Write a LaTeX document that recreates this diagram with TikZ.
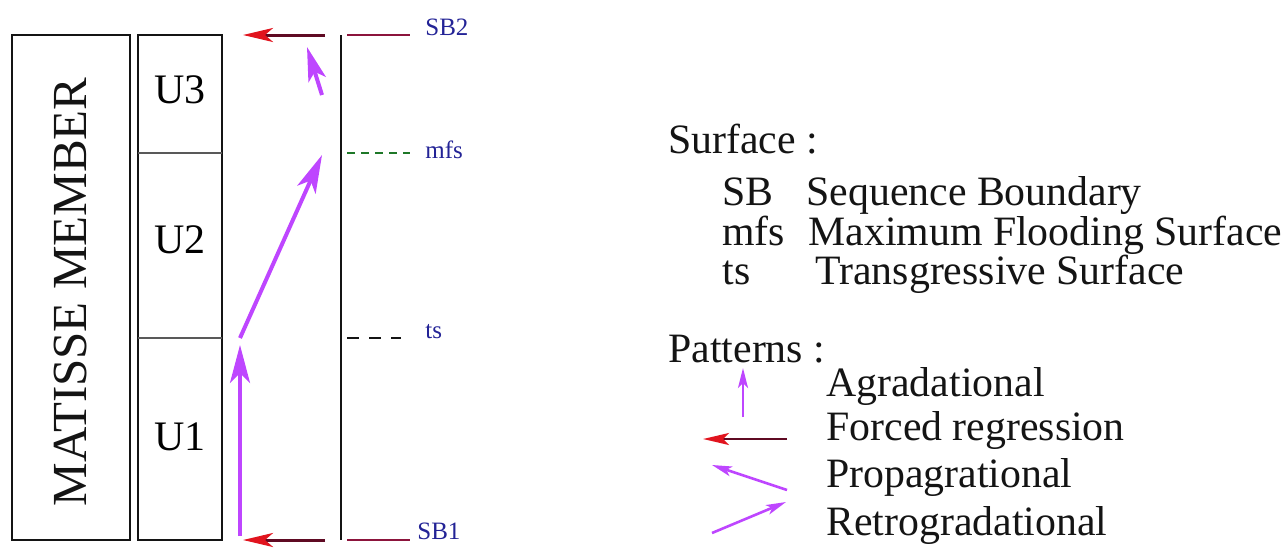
\documentclass[tikz,border=0pt]{standalone}
\usepackage{fontspec}
\setmainfont{Liberation Serif}
\usetikzlibrary{arrows.meta,positioning}
\definecolor{inkBlack}{RGB}{20, 20, 20}
\definecolor{patternViolet}{RGB}{190, 70, 255}
\definecolor{forcedRed}{RGB}{225, 20, 30}
\definecolor{forcedLine}{RGB}{95, 10, 35}
\definecolor{sbMaroon}{RGB}{140, 20, 60}
\definecolor{mfsGreen}{RGB}{30, 120, 40}
\definecolor{labelBlue}{RGB}{35, 35, 150}
\tikzset{
  colbox/.style={draw=inkBlack, line width=1pt},
  patternArrow/.style={draw=patternViolet, line width=2pt, -{Stealth[length=19pt, width=10pt, inset=5pt]}},
  patternSmall/.style={draw=patternViolet, line width=1.3pt, -{Stealth[length=10pt, width=5pt, inset=2.5pt]}},
  forcedArrow/.style={draw=forcedLine, line width=1.5pt, -{Stealth[length=15pt, width=7pt, inset=4pt, color=forcedRed]}},
  forcedSmall/.style={draw=forcedLine, line width=1.3pt, -{Stealth[length=13pt, width=6pt, inset=3pt, color=forcedRed]}},
  surfLabel/.style={anchor=west, inner sep=0pt, text=labelBlue, font=\fontsize{12.5pt}{14pt}\selectfont},
  legendText/.style={anchor=base west, inner sep=0pt, text=inkBlack, font=\fontsize{20.9pt}{24pt}\selectfont}
}
\begin{document}
\begin{tikzpicture}[x=0.5pt, y=-0.5pt]
  \useasboundingbox (0,0) rectangle (1286,547);

  % member and units column
  \draw[colbox] (12,35) rectangle (130,540);
  \node[rotate=90, text=inkBlack, font=\fontsize{24.5pt}{28pt}\selectfont] (member) at (71,292) {MATISSE MEMBER};
  \draw[colbox] (138,35) rectangle (222,540);
  \draw[colbox, draw=black!65] (138,153) -- (222,153);
  \draw[colbox, draw=black!65] (138,338) -- (222,338);
  \node[font=\fontsize{21pt}{24pt}\selectfont] (uThree) at (180,90) {U3};
  \node[font=\fontsize{21pt}{24pt}\selectfont] (uTwo) at (180,240) {U2};
  \node[font=\fontsize{21pt}{24pt}\selectfont] (uOne) at (180,437) {U1};

  % time line and surfaces
  \coordinate (axisTop) at (341,35);
  \coordinate (axisBot) at (341,540);
  \draw[colbox] (axisTop) -- (axisBot);
  \coordinate (sbTwoA) at (347,35);  \coordinate (sbTwoB) at (410,35);
  \coordinate (mfsA) at (347,153);   \coordinate (mfsB) at (410,153);
  \coordinate (tsA) at (347,338);    \coordinate (tsB) at (401,338);
  \coordinate (sbOneA) at (347,540); \coordinate (sbOneB) at (410,540);
  \draw[sbMaroon, line width=1.3pt] (sbTwoA) -- (sbTwoB);
  \draw[mfsGreen, line width=1pt, dash pattern=on 4pt off 3pt] (mfsA) -- (mfsB);
  \draw[inkBlack, line width=1pt, dash pattern=on 6pt off 5pt] (tsA) -- (tsB);
  \draw[sbMaroon, line width=1.3pt] (sbOneA) -- (sbOneB);
  \node[surfLabel] (sbTwo) at (425,27) {SB2};
  \node[surfLabel] (mfs) at (425,150) {mfs};
  \node[surfLabel] (ts) at (425,332) {ts};
  \node[surfLabel] (sbOne) at (417,531) {SB1};

  % stacking patterns
  \coordinate (frTopA) at (325,35);  \coordinate (frTopB) at (243,35);
  \coordinate (frBotA) at (325,540); \coordinate (frBotB) at (243,540);
  \coordinate (agA) at (240,536);    \coordinate (agB) at (240,345);
  \coordinate (rtA) at (240,338);    \coordinate (rtB) at (322,155);
  \coordinate (pgA) at (322,95);     \coordinate (pgB) at (307,47);
  \draw[forcedArrow] (frTopA) -- (frTopB);
  \draw[forcedArrow] (frBotA) -- (frBotB);
  \draw[patternArrow] (agA) -- (agB);
  \draw[patternArrow] (rtA) -- (rtB);
  \draw[patternArrow, -{Stealth[length=17pt, width=9pt, inset=4pt]}] (pgA) -- (pgB);

  % legend
  \node[legendText] (surfHead) at (668,153) {Surface :};
  \node[legendText] (sbKey) at (722,205) {SB};
  \node[legendText] (sbText) at (806,205) {Sequence Boundary};
  \node[legendText] (mfsKey) at (722,245) {mfs};
  \node[legendText] (mfsText) at (808,245) {Maximum Flooding Surface};
  \node[legendText] (tsKey) at (722,284) {ts};
  \node[legendText] (tsText) at (815,284) {Transgressive Surface};

  \node[legendText] (patHead) at (668,362) {Patterns :};
  \node[legendText] (agText) at (826,396) {Agradational};
  \node[legendText] (frText) at (826,440) {Forced regression};
  \node[legendText] (pgText) at (826,487) {Propagrational};
  \node[legendText] (rtText) at (826,535) {Retrogradational};
  \coordinate (keyAgA) at (743,417); \coordinate (keyAgB) at (743,368);
  \coordinate (keyFrA) at (787,439); \coordinate (keyFrB) at (703,439);
  \coordinate (keyPgA) at (787,490); \coordinate (keyPgB) at (712,465);
  \coordinate (keyRtA) at (712,533); \coordinate (keyRtB) at (786,502);
  \draw[patternSmall] (keyAgA) -- (keyAgB);
  \draw[forcedSmall] (keyFrA) -- (keyFrB);
  \draw[patternSmall] (keyPgA) -- (keyPgB);
  \draw[patternSmall] (keyRtA) -- (keyRtB);
\end{tikzpicture}
\end{document}
